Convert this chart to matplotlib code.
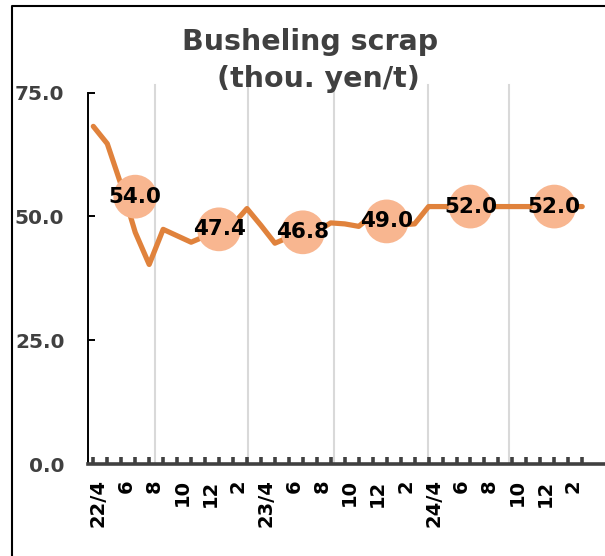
import numpy as np
import matplotlib
matplotlib.use("Agg")
import matplotlib.pyplot as plt
import matplotlib.transforms as mtrans
from matplotlib.lines import Line2D

# monthly price, 22/4 .. 25/3 (thou. yen/t)
price = [68.2, 64.7, 56.3, 46.8, 40.3, 47.4,
         46.1, 44.8, 46.0, 47.5, 48.4, 51.6,
         48.2, 44.6, 45.8, 46.5, 47.0, 48.7,
         48.5, 48.0, 50.3, 50.4, 48.3, 48.5,
         52.0, 52.0, 52.0, 52.0, 52.0, 52.0,
         52.0, 52.0, 52.0, 52.0, 52.0, 52.0]

# half-year averages, placed mid-period
avg_month = [3, 9, 15, 21, 27, 33]
avg_value = [54.0, 47.4, 46.8, 49.0, 52.0, 52.0]

tick_labels = ["22/4", "6", "8", "10", "12", "2",
               "23/4", "6", "8", "10", "12", "2",
               "24/4", "6", "8", "10", "12", "2"]

grid_month = [4.42, 11.07, 17.23, 23.96, 29.76]

line_c = '#E0823C'
dot_c = '#F8B690'
grey = '#404040'

W, H = 605, 556
fig = plt.figure(figsize=(W/100, H/100), dpi=100)
ax = fig.add_axes([88/W, (H-464)/H, (W-88)/W, (464-92.7)/H])

x = np.arange(len(price))
ax.plot(x, price, color=line_c, lw=3.75, solid_joinstyle='round', solid_capstyle='round', zorder=3)
ax.scatter(avg_month, avg_value, s=31.5**2, color=dot_c, edgecolors='none', zorder=4)
for m, v in zip(avg_month, avg_value):
    ax.text(m, v, '%.1f' % v, ha='center', va='center', fontsize=15.5,
            fontweight='bold', color='black', zorder=5)

for g in grid_month:
    ax.axvline(g, ymin=0, ymax=1.02, color='#D9D9D9', lw=1.5, zorder=1, clip_on=False)

ax.set_xlim(-0.38, 36.63)
ax.set_ylim(0, 75)

ax.set_yticks([0, 25, 50, 75])
ax.set_yticklabels(['%.1f' % v for v in [0, 25, 50, 75]], fontsize=14.5,
                   fontweight='bold', color=grey)
ax.tick_params(axis='y', direction='in', length=5, width=1.4, color='black', pad=17)

ax.set_xticks(range(36))
labs = []
for i in range(36):
    labs.append(tick_labels[i // 2] if i % 2 == 0 else '')
ax.set_xticklabels(labs, rotation=90, fontsize=14, fontweight='bold', color='black')
ax.tick_params(axis='x', direction='in', length=5, width=2.6, color=grey, pad=11)
off = mtrans.ScaledTranslation(5/100, 0, fig.dpi_scale_trans)
for lab in ax.get_xticklabels():
    lab.set_transform(lab.get_transform() + off)

for s in ('top', 'right'):
    ax.spines[s].set_visible(False)
ax.spines['left'].set_color('black')
ax.spines['left'].set_linewidth(1.4)
ax.spines['bottom'].set_color(grey)
ax.spines['bottom'].set_linewidth(2.6)
ax.spines['bottom'].set_zorder(6)

# title, two lines as in the original chart
fig.text(310/W, 1 - 50/H, "Busheling scrap", ha='center', va='baseline',
         fontsize=20.5, fontweight='bold', color=grey)
fig.text(318/W, 1 - 87/H, "(thou. yen/t)", ha='center', va='baseline',
         fontsize=20.5, fontweight='bold', color=grey)

# outer chart frame (left and top edges)
fig.add_artist(Line2D([12/W, 12/W, 1.01], [-0.01, 1 - 6/H, 1 - 6/H],
                      transform=fig.transFigure, color='black', lw=1.5))

fig.savefig('out.png', dpi=100)
